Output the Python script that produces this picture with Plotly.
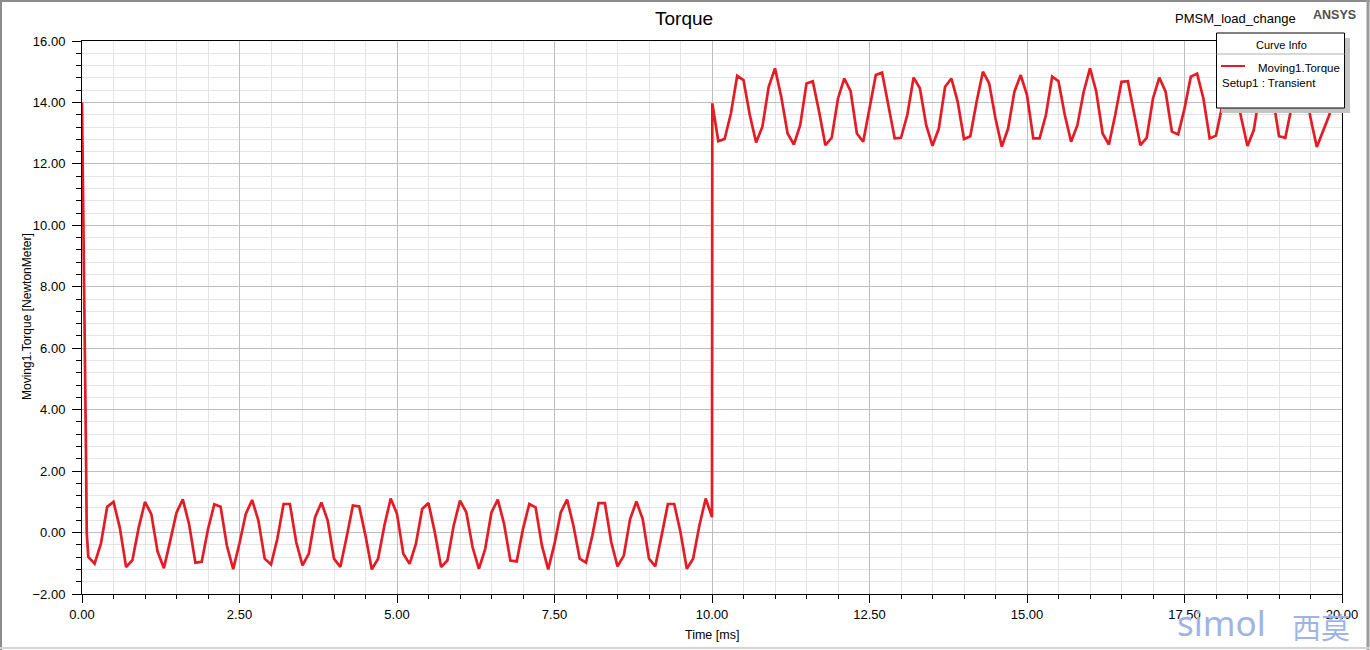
import plotly.graph_objects as go

# ---------------- data ----------------
time_ms = [
    0.0, 0.015, 0.03, 0.045, 0.055, 0.065, 0.075,
    0.1, 0.2, 0.3, 0.4, 0.5, 0.6, 0.7, 0.8, 0.9, 1.0,
    1.1, 1.2, 1.3, 1.4, 1.5, 1.6, 1.7, 1.8, 1.9, 2.0,
    2.1, 2.2, 2.3, 2.4, 2.5, 2.6, 2.7, 2.8, 2.9, 3.0,
    3.1, 3.2, 3.3, 3.4, 3.5, 3.6, 3.7, 3.8, 3.9, 4.0,
    4.1, 4.2, 4.3, 4.4, 4.5, 4.6, 4.7, 4.8, 4.9, 5.0,
    5.1, 5.2, 5.3, 5.4, 5.5, 5.6, 5.7, 5.8, 5.9, 6.0,
    6.1, 6.2, 6.3, 6.4, 6.5, 6.6, 6.7, 6.8, 6.9, 7.0,
    7.1, 7.2, 7.3, 7.4, 7.5, 7.6, 7.7, 7.8, 7.9, 8.0,
    8.1, 8.2, 8.3, 8.4, 8.5, 8.6, 8.7, 8.8, 8.9, 9.0,
    9.1, 9.2, 9.3, 9.4, 9.5, 9.6, 9.7, 9.8, 9.9, 10.0,
    10.005,
    10.1, 10.2, 10.3, 10.4, 10.5, 10.6, 10.7, 10.8, 10.9, 11.0,
    11.1, 11.2, 11.3, 11.4, 11.5, 11.6, 11.7, 11.8, 11.9, 12.0,
    12.1, 12.2, 12.3, 12.4, 12.5, 12.6, 12.7, 12.8, 12.9, 13.0,
    13.1, 13.2, 13.3, 13.4, 13.5, 13.6, 13.7, 13.8, 13.9, 14.0,
    14.1, 14.2, 14.3, 14.4, 14.5, 14.6, 14.7, 14.8, 14.9, 15.0,
    15.1, 15.2, 15.3, 15.4, 15.5, 15.6, 15.7, 15.8, 15.9, 16.0,
    16.1, 16.2, 16.3, 16.4, 16.5, 16.6, 16.7, 16.8, 16.9, 17.0,
    17.1, 17.2, 17.3, 17.4, 17.5, 17.6, 17.7, 17.8, 17.9, 18.0,
    18.1, 18.2, 18.3, 18.4, 18.5, 18.6, 18.7, 18.8, 18.9, 19.0,
    19.1, 19.2, 19.3, 19.4, 19.5, 19.6, 19.7, 19.8, 19.9, 20.0,
]

torque_nm = [
    14.0, 11.7, 9.3, 7.0, 4.6, 2.3, 0.0,
    -0.79, -1.01, -0.36, 0.84, 1.00, 0.16, -1.12, -0.90, 0.16, 1.00,
    0.60, -0.62, -1.16, -0.27, 0.65, 1.08, 0.27, -0.98, -0.95, 0.11,
    0.92, 0.84, -0.43, -1.19, -0.35, 0.61, 1.06, 0.39, -0.85, -1.04,
    -0.21, 0.93, 0.93, -0.31, -1.07, -0.69, 0.50, 0.98, 0.39, -0.85,
    -1.12, -0.15, 0.88, 0.85, -0.10, -1.20, -0.85, 0.23, 1.11, 0.61,
    -0.69, -1.02, -0.37, 0.77, 0.96, 0.01, -1.12, -0.91, 0.23, 1.04,
    0.66, -0.48, -1.18, -0.53, 0.66, 1.07, 0.28, -0.91, -0.94, 0.12,
    0.93, 0.82, -0.42, -1.20, -0.37, 0.66, 1.07, 0.23, -0.85, -0.98,
    -0.10, 0.96, 0.96, -0.31, -1.10, -0.75, 0.44, 1.01, 0.44, -0.85,
    -1.10, -0.10, 0.93, 0.93, 0.01, -1.18, -0.85, 0.23, 1.11, 0.50,
    13.97,
    12.74, 12.81, 13.64, 14.87, 14.73, 13.59, 12.70, 13.21, 14.51, 15.11,
    14.18, 12.99, 12.63, 13.26, 14.62, 14.69, 13.70, 12.61, 12.85, 14.13,
    14.78, 14.37, 12.99, 12.72, 13.80, 14.89, 14.97, 13.91, 12.83, 12.85,
    13.59, 14.81, 14.46, 13.26, 12.59, 13.15, 14.51, 14.78, 14.02, 12.81,
    12.90, 14.02, 15.00, 14.62, 13.48, 12.56, 13.15, 14.35, 14.89, 14.24,
    12.83, 12.83, 13.59, 14.84, 14.69, 13.59, 12.72, 13.26, 14.35, 15.11,
    14.35, 12.99, 12.63, 13.59, 14.67, 14.69, 13.59, 12.61, 12.85, 14.13,
    14.81, 14.35, 13.05, 12.96, 13.80, 14.84, 14.94, 14.13, 12.83, 12.92,
    13.90, 14.80, 14.60, 13.50, 12.58, 13.10, 14.40, 14.90, 14.20, 12.90,
    12.85, 13.80, 14.85, 14.70, 13.50, 12.55, 13.10, 13.60, 14.50, 14.90,
]

x_range = [0, 20]
y_range = [-2, 16]

chart_title = "Torque"
project_name = "PMSM_load_change"
brand = "ANSYS"
x_title = "Time [ms]"
y_title = "Moving1.Torque [NewtonMeter]"
legend_title = "Curve Info"
legend_series = "Moving1.Torque"
legend_setup = "Setup1 : Transient"
watermark_latin = "simol"
watermark_cjk = "西莫"

# ---------------- layout geometry ----------------
FIG_W, FIG_H = 1370, 650
L, R, T, B = 82, 1342, 41, 594
PW, PH = R - L, B - T


def fx(x):
    return (x - L) / PW


def fy(y):
    return (B - y) / PH


RED = "#e31c25"
FONT = "Arial, Liberation Sans, sans-serif"

fig = go.Figure()
fig.add_trace(go.Scatter(
    x=time_ms, y=torque_nm, mode="lines",
    line=dict(color=RED, width=2.7),
    name=legend_series, showlegend=False, hoverinfo="x+y",
))

fig.update_layout(
    width=FIG_W, height=FIG_H,
    margin=dict(l=L, r=FIG_W - R, t=T, b=FIG_H - B, autoexpand=False),
    paper_bgcolor="white", plot_bgcolor="white",
    font=dict(family=FONT, size=13, color="black"),
    showlegend=False,
)

fig.update_xaxes(
    range=x_range, tick0=0, dtick=2.5, tickformat=".2f",
    ticks="outside", ticklen=8, tickwidth=1, tickcolor="black",
    showline=True, linecolor="black", linewidth=1, mirror=True,
    showgrid=True, gridcolor="#bebebe", gridwidth=1, zeroline=False,
    tickfont=dict(family=FONT, size=13, color="black"),
    minor=dict(tick0=0, dtick=0.5, ticks="outside", ticklen=4,
               tickcolor="black", showgrid=True, gridcolor="#e4e4e4"),
)
fig.update_yaxes(
    range=y_range, tick0=0, dtick=2, tickformat=".2f",
    ticks="outside", ticklen=9, tickwidth=1, tickcolor="black",
    showline=True, linecolor="black", linewidth=1, mirror=True,
    showgrid=True, gridcolor="#bebebe", gridwidth=1, zeroline=False,
    tickfont=dict(family=FONT, size=13, color="black"),
    ticklabelstandoff=4,
    minor=dict(tick0=0, dtick=0.4, ticks="outside", ticklen=5,
               tickcolor="black", showgrid=True, gridcolor="#e4e4e4"),
)

shapes = []
# outer frame of the picture
shapes.append(dict(type="line", xref="paper", yref="paper",
                   x0=fx(0), x1=fx(FIG_W), y0=fy(1), y1=fy(1),
                   line=dict(color="#8c8c8c", width=2)))
shapes.append(dict(type="line", xref="paper", yref="paper",
                   x0=fx(1), x1=fx(1), y0=fy(0), y1=fy(FIG_H),
                   line=dict(color="#8c8c8c", width=2)))
shapes.append(dict(type="line", xref="paper", yref="paper",
                   x0=fx(1368), x1=fx(1368), y0=fy(0), y1=fy(FIG_H),
                   line=dict(color="#9a9a9a", width=3)))
shapes.append(dict(type="line", xref="paper", yref="paper",
                   x0=fx(0), x1=fx(FIG_W), y0=fy(648), y1=fy(648),
                   line=dict(color="#d4d4d4", width=2)))

# legend ("Curve Info") box with shadow
shapes.append(dict(type="rect", xref="paper", yref="paper",
                   x0=fx(1221), x1=fx(1350), y0=fy(38), y1=fy(113),
                   fillcolor="#c4c4c4", line=dict(width=0)))
shapes.append(dict(type="rect", xref="paper", yref="paper",
                   x0=fx(1216.5), x1=fx(1344.5), y0=fy(33), y1=fy(108),
                   fillcolor="white", line=dict(color="black", width=1)))
shapes.append(dict(type="line", xref="paper", yref="paper",
                   x0=fx(1216.5), x1=fx(1344.5), y0=fy(54), y1=fy(54),
                   line=dict(color="#b0b0b0", width=1)))
shapes.append(dict(type="line", xref="paper", yref="paper",
                   x0=fx(1221), x1=fx(1245), y0=fy(66), y1=fy(66),
                   line=dict(color=RED, width=2)))

annotations = [
    dict(text=chart_title, x=fx(684), y=fy(19), xref="paper", yref="paper",
         showarrow=False, xanchor="center", yanchor="middle",
         font=dict(family=FONT, size=19, color="black")),
    dict(text=project_name, x=fx(1235), y=fy(18.5), xref="paper", yref="paper",
         showarrow=False, xanchor="center", yanchor="middle",
         font=dict(family=FONT, size=13, color="black")),
    dict(text="<b>" + brand + "</b>", x=fx(1334), y=fy(15.5), xref="paper",
         yref="paper", showarrow=False, xanchor="center", yanchor="middle",
         font=dict(family=FONT, size=12.5, color="#505050")),
    dict(text=x_title, x=fx(712), y=fy(635), xref="paper", yref="paper",
         showarrow=False, xanchor="center", yanchor="middle",
         font=dict(family=FONT, size=12.5, color="black")),
    dict(text=y_title, x=fx(27), y=fy(317), xref="paper", yref="paper",
         showarrow=False, xanchor="center", yanchor="middle", textangle=-90,
         font=dict(family=FONT, size=12, color="black")),
    dict(text=legend_title, x=fx(1281), y=fy(45), xref="paper", yref="paper",
         showarrow=False, xanchor="center", yanchor="middle",
         font=dict(family=FONT, size=11, color="black")),
    dict(text=legend_series, x=fx(1256), y=fy(67.5), xref="paper", yref="paper",
         showarrow=False, xanchor="left", yanchor="middle",
         font=dict(family=FONT, size=11.5, color="black")),
    dict(text=legend_setup, x=fx(1220), y=fy(83), xref="paper", yref="paper",
         showarrow=False, xanchor="left", yanchor="middle",
         font=dict(family=FONT, size=11.5, color="black")),
    dict(text=watermark_latin, x=fx(1175), y=fy(622), xref="paper", yref="paper",
         showarrow=False, xanchor="left", yanchor="middle",
         font=dict(family="Noto Sans, Arial, sans-serif", size=35,
                   color="#9fb4e4")),
    dict(text=watermark_cjk, x=fx(1352), y=fy(626), xref="paper", yref="paper",
         showarrow=False, xanchor="right", yanchor="middle",
         font=dict(family="Noto Sans CJK SC, sans-serif", size=29,
                   color="#9fb4e4")),
]

fig.update_layout(shapes=shapes, annotations=annotations)

fig.write_html("out.html")
